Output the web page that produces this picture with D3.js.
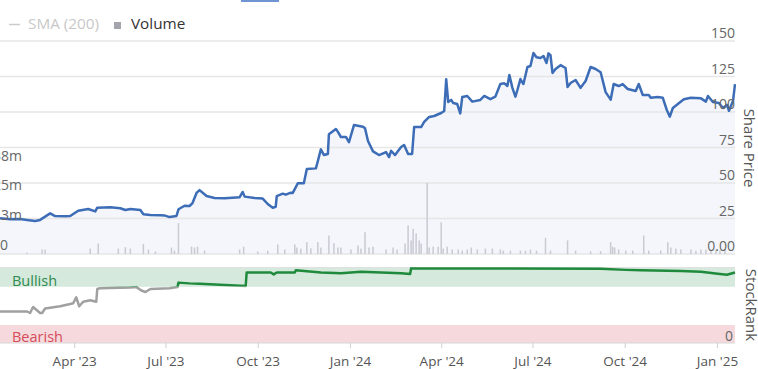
<!DOCTYPE html>
<html><head><meta charset="utf-8">
<script src="https://cdn.jsdelivr.net/npm/d3@7"></script>
<style>body{margin:0;background:#fff;}svg{display:block;font-family:'Open Sans',sans-serif;}</style>
</head><body><svg id="c" width="758" height="369"></svg>
<script>
// ---------- data ----------
const priceDates = ["2023-01-17","2023-01-27","2023-02-06","2023-02-13","2023-02-21","2023-02-26","2023-03-08","2023-03-13","2023-03-23","2023-03-28","2023-04-05","2023-04-15","2023-04-22","2023-04-24","2023-05-07","2023-05-17","2023-05-22","2023-05-27","2023-06-06","2023-06-09","2023-06-16","2023-06-26","2023-06-30","2023-07-05","2023-07-12","2023-07-14","2023-07-20","2023-07-25","2023-07-28","2023-08-01","2023-08-04","2023-08-11","2023-08-19","2023-08-29","2023-09-13","2023-09-16","2023-09-18","2023-09-28","2023-10-06","2023-10-11","2023-10-16","2023-10-19","2023-10-20","2023-10-26","2023-10-29","2023-11-03","2023-11-05","2023-11-10","2023-11-16","2023-11-19","2023-11-28","2023-11-30","2023-12-03","2023-12-06","2023-12-10","2023-12-11","2023-12-18","2023-12-20","2023-12-23","2023-12-28","2023-12-31","2024-01-05","2024-01-14","2024-01-16","2024-01-19","2024-01-24","2024-01-30","2024-02-06","2024-02-09","2024-02-11","2024-02-15","2024-02-21","2024-02-24","2024-02-28","2024-03-03","2024-03-05","2024-03-12","2024-03-15","2024-03-20","2024-03-25","2024-03-29","2024-04-01","2024-04-04","2024-04-06","2024-04-08","2024-04-11","2024-04-13","2024-04-17","2024-04-20","2024-04-22","2024-04-27","2024-05-02","2024-05-10","2024-05-14","2024-05-20","2024-05-25","2024-05-30","2024-06-03","2024-06-06","2024-06-08","2024-06-11","2024-06-14","2024-06-16","2024-06-19","2024-06-22","2024-06-26","2024-06-29","2024-07-02","2024-07-05","2024-07-09","2024-07-12","2024-07-15","2024-07-17","2024-07-19","2024-07-21","2024-07-24","2024-07-29","2024-08-03","2024-08-05","2024-08-08","2024-08-13","2024-08-18","2024-08-23","2024-08-28","2024-09-02","2024-09-07","2024-09-12","2024-09-17","2024-09-20","2024-09-25","2024-09-29","2024-10-04","2024-10-12","2024-10-15","2024-10-19","2024-10-25","2024-10-27","2024-11-03","2024-11-08","2024-11-12","2024-11-15","2024-11-18","2024-11-23","2024-11-29","2024-12-06","2024-12-16","2024-12-21","2024-12-23","2024-12-28","2025-01-03","2025-01-07","2025-01-11","2025-01-13","2025-01-17","2025-01-19"];
const priceValues = [25.1,24.4,24.6,24.0,23.2,24.0,28.6,26.7,26.5,26.7,30.5,31.7,30.0,32.6,33.0,32.2,31.0,31.7,31.0,28.0,27.5,27.3,27.2,26.0,26.8,31.5,34.0,33.8,35.9,43.0,45.0,40.8,39.4,39.2,40.0,43.7,40.4,39.4,39.0,35.2,32.6,33.3,40.8,42.5,41.8,43.2,43.0,49.8,49.8,59.9,60.3,65.5,73.7,69.7,70.4,84.3,88.0,86.0,82.4,82.4,78.7,90.8,89.6,88.5,79.6,72.3,69.7,71.8,68.3,72.7,69.7,75.4,76.8,70.4,70.4,89.4,89.4,93.0,96.5,97.2,98.4,99.3,100.7,123.0,107.0,108.5,106.3,105.6,99.0,110.6,111.3,107.3,108.5,111.3,109.0,110.8,119.7,120.2,118.3,126.0,117.0,110.8,115.5,123.2,119.7,131.7,132.4,141.5,138.5,138.0,139.4,134.5,141.3,140.0,127.5,130.3,133.0,131.0,117.6,120.4,122.5,117.0,121.8,131.7,130.3,128.0,114.0,108.7,119.7,118.3,119.7,116.2,114.8,119.7,112.0,112.0,110.0,110.5,110.0,101.4,96.7,102.8,105.6,109.0,110.0,109.6,107.3,111.3,107.0,106.3,102.8,105.0,100.9,107.7,119.7];

const volumeDates = ["2023-02-13","2023-02-28","2023-03-03","2023-04-17","2023-04-25","2023-05-15","2023-05-22","2023-05-27","2023-06-09","2023-06-14","2023-06-21","2023-07-07","2023-07-10","2023-07-14","2023-07-27","2023-07-30","2023-08-02","2023-08-09","2023-09-13","2023-09-17","2023-10-01","2023-10-11","2023-10-21","2023-10-28","2023-11-07","2023-11-09","2023-11-13","2023-11-19","2023-11-23","2023-11-30","2023-12-03","2023-12-11","2023-12-16","2023-12-20","2023-12-23","2024-01-02","2024-01-09","2024-01-12","2024-01-16","2024-01-20","2024-01-24","2024-02-06","2024-02-13","2024-02-17","2024-02-25","2024-02-28","2024-03-02","2024-03-04","2024-03-07","2024-03-10","2024-03-12","2024-03-18","2024-03-20","2024-03-24","2024-03-29","2024-04-01","2024-04-03","2024-04-07","2024-04-12","2024-04-18","2024-04-22","2024-04-27","2024-05-01","2024-05-07","2024-05-15","2024-05-22","2024-05-30","2024-06-02","2024-06-09","2024-06-19","2024-06-24","2024-06-29","2024-07-05","2024-07-14","2024-07-19","2024-08-05","2024-08-13","2024-08-28","2024-09-07","2024-09-17","2024-09-19","2024-09-21","2024-09-25","2024-10-02","2024-10-09","2024-10-20","2024-10-25","2024-11-06","2024-11-13","2024-11-16","2024-11-21","2024-11-26","2024-12-06","2024-12-11","2024-12-16","2024-12-21","2024-12-26","2024-12-31","2025-01-04","2025-01-09"];
const volumeValues = [0.5,1.6,1.6,1.9,3.7,1.9,2.4,1.9,3.6,1.6,0.9,2.3,1.2,10.9,2.6,2.3,2.6,1.2,1.6,2.6,0.9,1.2,3.4,1.6,3.4,2.3,1.9,4.2,2.0,4.2,2.3,6.5,3.8,2.3,2.3,1.6,3.0,1.9,7.7,2.3,2.6,1.6,2.3,1.6,3.7,10.1,4.8,8.9,7.3,4.8,3.7,25.2,2.3,2.6,2.6,11.2,1.9,2.6,1.6,1.6,1.2,1.6,2.3,1.6,1.9,1.9,1.6,1.2,1.2,1.2,1.2,1.6,1.2,5.7,1.2,4.8,1.2,1.0,1.0,4.2,2.6,2.3,1.6,1.2,1.2,6.5,1.2,1.2,4.2,2.3,1.9,1.6,1.6,1.2,1.6,1.6,1.2,1.6,1.2,1.6];

const rankDates = ["2023-01-17","2023-02-13","2023-02-16","2023-02-19","2023-02-26","2023-02-28","2023-03-03","2023-03-18","2023-03-28","2023-03-31","2023-04-03","2023-04-06","2023-04-10","2023-04-17","2023-04-23","2023-04-24","2023-04-27","2023-05-27","2023-06-02","2023-06-07","2023-06-11","2023-06-16","2023-07-05","2023-07-13","2023-07-14","2023-07-25","2023-08-04","2023-09-19","2023-09-20","2023-10-14","2023-10-17","2023-10-20","2023-11-07","2023-11-08","2023-12-03","2023-12-23","2024-01-12","2024-02-01","2024-02-21","2024-03-01","2024-03-02","2024-09-07","2024-10-02","2024-10-17","2024-11-26","2024-12-16","2025-01-04","2025-01-11","2025-01-19"];
const rankValues = [42,42,40,48,40,40,46,49,52,53,61,49,55,57,55,72,73,74,74.5,70,68,72,73,74.5,80.5,79.5,79,76,94,94,91.5,94,94,97,94,93,95,94,93,92,99.5,99,97.5,97,96,95,92,91,94];

const priceTicks = [0,25,50,75,100,125,150];
const priceTickLabels = ["0.00","25","50","75","100","125","150"];
const volumeTicks = [0,12.5,25,37.5];
const volumeTickLabels = ["0","13m","25m","38m"];
const timeTicks = ["2023-04-01","2023-07-01","2023-10-01","2024-01-01","2024-04-01","2024-07-01","2024-10-01","2025-01-01"];
const bullishThreshold = 75.5;

// ---------- layout ----------
const svg = d3.select("#c");
const W = 735;
const parse = d3.utcParse("%Y-%m-%d");
const x = d3.scaleUtc().domain([parse("2023-01-17"), parse("2025-01-19")]).range([0, W]);
const yP = d3.scaleLinear().domain([0,150]).range([254,41]);
const yV = d3.scaleLinear().domain([0,37.5]).range([254,148]);
const yVLabel = d3.scaleLinear().domain([0,37.5]).range([249.5,160.5]);
const yR = d3.scaleLinear().domain([0,100]).range([343,268]);

const price = priceDates.map((d,i)=>({d:parse(d), v:priceValues[i]}));
const vol = volumeDates.map((d,i)=>({d:parse(d), v:volumeValues[i]}));
const rank = rankDates.map((d,i)=>({d:parse(d), v:rankValues[i]}));

const defs = svg.append("defs");
defs.append("clipPath").attr("id","plot").append("rect").attr("x",0).attr("y",0).attr("width",W+1).attr("height",369);
defs.append("clipPath").attr("id","bull").append("rect").attr("x",0).attr("y",0).attr("width",W+1).attr("height",yR(bullishThreshold));
defs.append("clipPath").attr("id","notbull").append("rect").attr("x",0).attr("y",yR(bullishThreshold)).attr("width",W+1).attr("height",369);

// tab indicator
svg.append("rect").attr("x",241).attr("y",0).attr("width",38).attr("height",2).attr("fill","#6f95d3");

// legend
const lg = svg.append("g");
lg.append("line").attr("x1",9).attr("x2",20).attr("y1",24.5).attr("y2",24.5).attr("stroke","#cccccc").attr("stroke-width",1.5);
lg.append("text").attr("x",28).attr("y",29).attr("font-size",15.3).attr("fill","#c8c8c8").text("SMA (200)");
lg.append("rect").attr("x",114).attr("y",22).attr("width",7).attr("height",7).attr("fill","#a4a4ac");
lg.append("text").attr("x",131).attr("y",29).attr("font-size",15.3).attr("fill","#333333").text("Volume");

// price area fill
svg.append("path").datum(price).attr("clip-path","url(#plot)")
  .attr("d", d3.area().x(d=>x(d.d)).y0(yP(0)).y1(d=>yP(d.v)))
  .attr("fill","#f4f6fb");

// price gridlines
svg.append("g").selectAll("line").data(priceTicks).join("line")
  .attr("x1",0).attr("x2",W).attr("y1",d=>yP(d)).attr("y2",d=>yP(d))
  .attr("stroke","#e6e6e6").attr("stroke-width",1.5);

// volume bars
svg.append("g").attr("clip-path","url(#plot)").selectAll("rect").data(vol).join("rect")
  .attr("x",d=>x(d.d)-0.75).attr("width",1.5)
  .attr("y",d=>yV(d.v)).attr("height",d=>yV(0)-yV(d.v))
  .attr("fill","#c9cad2");

// price line
svg.append("path").datum(price).attr("clip-path","url(#plot)")
  .attr("d", d3.line().x(d=>x(d.d)).y(d=>yP(d.v)))
  .attr("fill","none").attr("stroke","#3d6db6").attr("stroke-width",2.5).attr("stroke-linejoin","round");

// price labels
svg.append("g").selectAll("text").data(priceTicks).join("text")
  .attr("x",W).attr("y",d=>yP(d)-3).attr("text-anchor","end")
  .attr("font-size",14).attr("fill","#666666").text((d,i)=>priceTickLabels[i]);

// volume labels
svg.append("g").selectAll("text").data(volumeTicks).join("text")
  .attr("x",d=>d===0?0:-7).attr("y",d=>yVLabel(d)).attr("text-anchor","start")
  .attr("font-size",14).attr("fill","#666666").text((d,i)=>volumeTickLabels[i]);

// axis titles
svg.append("text").attr("transform","translate(744,148) rotate(90)").attr("text-anchor","middle")
  .attr("font-size",15).attr("fill","#555555").text("Share Price");
svg.append("text").attr("transform","translate(746,305) rotate(90)").attr("text-anchor","middle")
  .attr("font-size",15).attr("fill","#555555").text("StockRank");

// stockrank panel
svg.append("line").attr("x1",0).attr("x2",W).attr("y1",267.5).attr("y2",267.5).attr("stroke","#e0e0e0");
svg.append("rect").attr("x",0).attr("width",W).attr("y",yR(100)).attr("height",yR(75)-yR(100)).attr("fill","#d5e9dc");
svg.append("rect").attr("x",0).attr("width",W).attr("y",yR(24)).attr("height",yR(0)-yR(24)).attr("fill","#f5d9dc");
svg.append("text").attr("x",12).attr("y",286).attr("font-size",14.5).attr("fill","#2e8b4f").text("Bullish");
svg.append("text").attr("x",12).attr("y",342).attr("font-size",14.5).attr("fill","#d64a5a").text("Bearish");
svg.append("text").attr("x",W-2).attr("y",341).attr("text-anchor","end").attr("font-size",14).attr("fill","#666666").text("0");

const rankLine = d3.line().x(d=>x(d.d)).y(d=>yR(d.v));
svg.append("path").datum(rank).attr("clip-path","url(#notbull)").attr("d",rankLine)
  .attr("fill","none").attr("stroke","#a0a0a0").attr("stroke-width",2.5).attr("stroke-linejoin","round");
svg.append("path").datum(rank).attr("clip-path","url(#bull)").attr("d",rankLine)
  .attr("fill","none").attr("stroke","#1f8a3c").attr("stroke-width",2.5).attr("stroke-linejoin","round");

// x axis
const xa = svg.append("g").attr("transform","translate(0,343)")
  .call(d3.axisBottom(x).tickValues(timeTicks.map(parse)).tickFormat(d3.utcFormat("%b '%y")).tickSize(5).tickSizeOuter(0));
xa.select(".domain").attr("stroke","#d8d8d8").attr("d","M0,0H"+W);
xa.selectAll(".tick line").attr("stroke","#d0d0d0");
xa.selectAll(".tick text").attr("font-family","'Open Sans',sans-serif").attr("font-size",13.5).attr("fill","#555555").attr("dy",0).attr("y",23);
</script></body></html>
